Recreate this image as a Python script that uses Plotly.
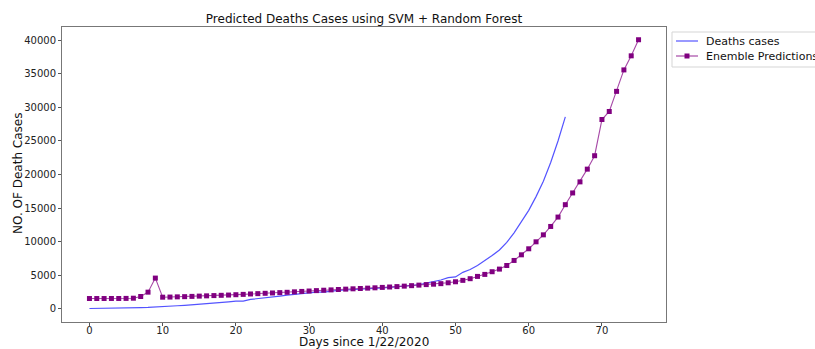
import plotly.graph_objects as go

# Actual deaths (days since 1/22/2020)
death_days = list(range(0, 66))
deaths = [17, 18, 26, 42, 56, 82, 131, 133, 171, 213,
          259, 362, 426, 492, 564, 634, 719, 806, 906, 1013,
          1113, 1118, 1371, 1523, 1666, 1770, 1868, 2007, 2122, 2247,
          2251, 2458, 2469, 2629, 2708, 2770, 2814, 2872, 2941, 2996,
          3085, 3160, 3254, 3348, 3460, 3558, 3803, 3996, 4262, 4615,
          4720, 5404, 5819, 6440, 7126, 7905, 8733, 9867, 11299, 12973,
          14651, 16700, 19000, 21800, 25000, 28600]

# Ensemble predictions (days 0..75)
pred_days = list(range(0, 76))
pred = [1500, 1500, 1500, 1510, 1510, 1520, 1550, 1800, 2450, 4550,
        1700, 1720, 1750, 1780, 1820, 1860, 1900, 1940, 1980, 2020,
        2070, 2120, 2180, 2230, 2280, 2330, 2380, 2430, 2500, 2560,
        2620, 2680, 2740, 2790, 2850, 2900, 2950, 3000, 3050, 3100,
        3160, 3220, 3280, 3350, 3420, 3500, 3580, 3640, 3720, 3850,
        4000, 4210, 4460, 4800, 5100, 5500, 5890, 6430, 7180, 8020,
        8920, 9960, 11000, 12250, 13650, 15500, 17250, 18900, 20800, 22800,
        28200, 29400, 32400, 35600, 37700, 40100]

x_ticks = [0, 10, 20, 30, 40, 50, 60, 70]
y_ticks = [0, 5000, 10000, 15000, 20000, 25000, 30000, 35000, 40000]

series_names = ["Deaths cases", "Enemble Predictions"]
title_text = "Predicted Deaths Cases using SVM + Random Forest"
x_title = "Days since 1/22/2020"
y_title = "NO. OF Death Cases"

font_family = "DejaVu Sans"
W, H = 815, 349
L, R, T, B = 62, 149, 27, 27

blue = "rgba(40,40,255,0.8)"
purple_line = "rgba(150,40,150,0.85)"
purple = "#800080"

fig = go.Figure()
fig.add_trace(go.Scatter(
    x=death_days, y=deaths, mode="lines", name=series_names[0],
    line=dict(color=blue, width=1.2), showlegend=False,
))
fig.add_trace(go.Scatter(
    x=pred_days, y=pred, mode="lines+markers", name=series_names[1],
    line=dict(color=purple_line, width=1.1),
    marker=dict(symbol="square", size=5, color=purple), showlegend=False,
))

axis_common = dict(
    showline=True, mirror=True, linecolor="#777", linewidth=1,
    ticks="outside", ticklen=3, tickcolor="#555", showgrid=False, zeroline=False,
    tickfont=dict(family=font_family, size=10, color="#222"),
)

PW = W - L - R
PH = H - T - B

shapes = []
annotations = []

# Legend (drawn in paper pixels)
shapes.append(dict(type="rect", xref="paper", yref="paper",
                   x0=(672 - L) / PW, x1=(830 - L) / PW,
                   y0=1 - (67 - T) / PH, y1=1 - (32 - T) / PH,
                   line=dict(color="#d5d5d5", width=1), fillcolor="white", layer="above"))
row_y = [41, 56]
row_colors = [blue, purple_line]
for i, name in enumerate(series_names):
    yy = 1 - (row_y[i] - T) / PH
    shapes.append(dict(type="line", xref="paper", yref="paper",
                       x0=(676 - L) / PW, x1=(698 - L) / PW, y0=yy, y1=yy,
                       line=dict(color=row_colors[i], width=1.2), layer="above"))
    annotations.append(dict(text=name, xref="paper", yref="paper",
                            x=(705 - L) / PW, y=yy, xanchor="left", yanchor="middle",
                            borderpad=0,
                            showarrow=False, font=dict(family=font_family, size=11, color="#111")))
# marker in legend sample
ym = 1 - (row_y[1] - T) / PH
hx = 2.5 / PW
hy = 2.5 / PH
xc = (687 - L) / PW
shapes.append(dict(type="rect", xref="paper", yref="paper",
                   x0=xc - hx, x1=xc + hx, y0=ym - hy, y1=ym + hy,
                   line=dict(width=0), fillcolor=purple, layer="above"))

# Axis titles as annotations for exact placement
annotations.append(dict(text=x_title, xref="paper", yref="paper",
                        x=0.5, y=1 - (342 - T) / PH, xanchor="center", yanchor="middle",
                        borderpad=0,
                        showarrow=False, font=dict(family=font_family, size=12, color="#111")))
annotations.append(dict(text=y_title, xref="paper", yref="paper", textangle=-90,
                        x=(18 - L) / PW, y=1 - (174 - T) / PH,
                        xanchor="center", yanchor="middle", borderpad=0,
                        showarrow=False, font=dict(family=font_family, size=12, color="#111")))

fig.update_layout(
    width=W, height=H,
    margin=dict(l=L, r=R, t=T, b=B, autoexpand=False),
    paper_bgcolor="white", plot_bgcolor="white",
    font=dict(family=font_family, color="#111"),
    title=dict(text=title_text,
               x=(L + PW / 2) / W, xanchor="center", y=1 - 19 / H, yanchor="middle",
               font=dict(size=12, family=font_family, color="#111")),
    showlegend=False,
    xaxis=dict(range=[-3.75, 78.75], tickvals=x_ticks, ticklabelstandoff=-4, **axis_common),
    yaxis=dict(range=[-2000, 42000], tickvals=y_ticks, tickformat="d", **axis_common),
    shapes=shapes,
    annotations=annotations,
)

fig.write_html("out.html")
